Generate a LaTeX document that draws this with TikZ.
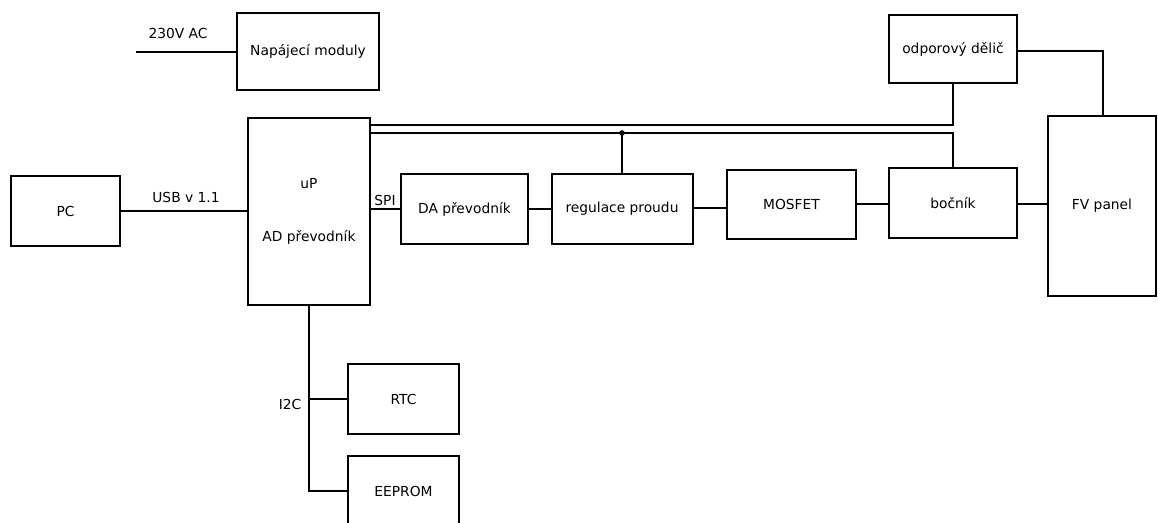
\documentclass[tikz,border=0pt]{standalone}
\usepackage{fontspec}
\setmainfont{DejaVu Sans}
\tikzset{
    blok/.style = {draw, line width=2pt, align=center, inner sep=0pt, font=\fontsize{13.8}{16}\selectfont},
    popis/.style = {font=\fontsize{13.8}{16}\selectfont, inner sep=1pt},
    spoj/.style = {line width=2pt}
}
\begin{document}
\begin{tikzpicture}[x=1pt, y=-1pt]
    \clip (0,0) rectangle (1158,522);
    % bloky
    \node [blok, minimum width=142pt, minimum height=77pt] (napajeni) at (308,51) {Napájecí moduly};
    \node [blok, minimum width=109pt, minimum height=70pt] (pc) at (65.5,211) {PC};
    \node [blok, minimum width=122pt, minimum height=187pt] (up) at (309,211.5) {uP\\[37pt]AD převodník};
    \node [blok, minimum width=127pt, minimum height=70pt] (da) at (464.5,209) {DA převodník};
    \node [blok, minimum width=141pt, minimum height=70pt] (reg) at (622,209) {regulace proudu};
    \node [blok, minimum width=129pt, minimum height=69pt] (mosfet) at (791.5,204.5) {MOSFET};
    \node [blok, minimum width=128pt, minimum height=70pt] (bocnik) at (953,203) {bočník};
    \node [blok, minimum width=128pt, minimum height=68pt] (delic) at (953,49) {odporový dělič};
    \node [blok, minimum width=108pt, minimum height=180pt] (fv) at (1102,206) {FV panel};
    \node [blok, minimum width=111pt, minimum height=70pt] (rtc) at (403.5,399) {RTC};
    \node [blok, minimum width=111pt, minimum height=70pt] (eeprom) at (403.5,491) {EEPROM};
    % napajeni
    \coordinate (sit) at (136,52);
    \draw [spoj] (sit) -- (sit -| napajeni.west);
    \node [popis] (ac) at (178,33) {230V AC};
    % spoje
    \draw [spoj] (pc.east) -- (pc.east -| up.west);
    \node [popis] (usb) at (186,197) {USB v 1.1};
    \draw [spoj] (da.west -| up.east) -- (da.west);
    \node [popis] (spi) at (385,200) {SPI};
    \draw [spoj] (da.east) -- (reg.west);
    \draw [spoj] (0,208 -| reg.east) -- (0,208 -| mosfet.west);
    \draw [spoj] (0,204 -| mosfet.east) -- (0,204 -| bocnik.west);
    \draw [spoj] (0,204 -| bocnik.east) -- (0,204 -| fv.west);
    % sbernice nahore
    \coordinate (vodic1) at (370,125);
    \coordinate (vodic2) at (370,133);
    \draw [spoj] (vodic1) -- (vodic1 -| delic.south) -- (delic.south);
    \draw [spoj] (vodic2) -- (vodic2 -| bocnik.north) -- (bocnik.north);
    \draw [spoj] (reg.north) -- (reg.north |- vodic2);
    \fill (reg.north |- vodic2) circle [radius=2.8pt];
    \draw [spoj] (0,51 -| delic.east) -- (1103,51) -- (1103,0 |- fv.north);
    % I2C
    \draw [spoj] (up.south) -- (up.south |- eeprom.west) -- (eeprom.west);
    \draw [spoj] (up.south |- rtc.west) -- (rtc.west);
    \node [popis] (i2c) at (290,404) {I2C};
\end{tikzpicture}
\end{document}
